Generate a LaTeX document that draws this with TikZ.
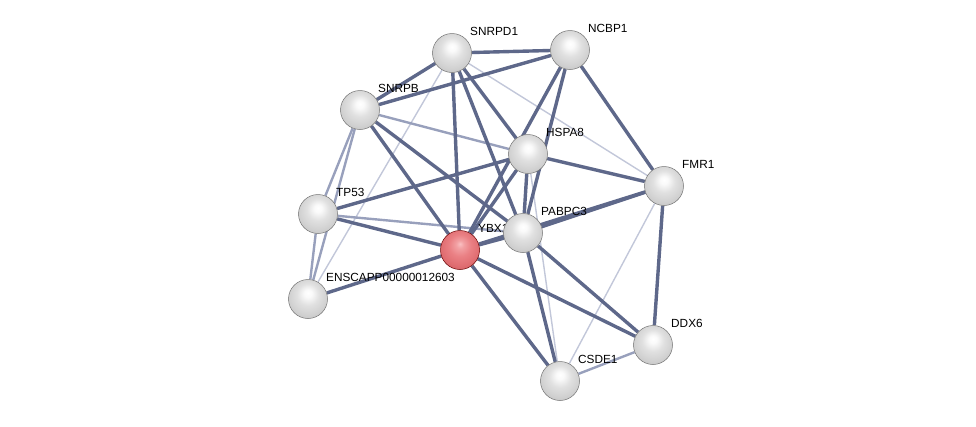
\documentclass[tikz,border=0pt]{standalone}
\usepackage{fontspec}
\setmainfont{Liberation Sans}
\usetikzlibrary{backgrounds}

\definecolor{edgedark}{RGB}{94,104,138}
\definecolor{edgemid}{RGB}{152,160,188}
\definecolor{edgelight}{RGB}{194,199,217}

% koule
\pgfdeclareradialshading{greyball}{\pgfpoint{0bp}{8bp}}{%
  color(0bp)=(white); color(5bp)=(white!98!black); color(14bp)=(white!88!black);
  color(24bp)=(white!82!black); color(32bp)=(white!76!black); color(38bp)=(white!66!black);
  color(44bp)=(white!55!black); color(50bp)=(white!42!black)}
\pgfdeclareradialshading{redball}{\pgfpoint{0bp}{8bp}}{%
  color(0bp)=(rgb,255:red,250;green,192;blue,194); color(5bp)=(rgb,255:red,242;green,160;blue,163);
  color(14bp)=(rgb,255:red,234;green,128;blue,132); color(24bp)=(rgb,255:red,224;green,110;blue,114);
  color(32bp)=(rgb,255:red,210;green,94;blue,98); color(38bp)=(rgb,255:red,190;green,78;blue,82);
  color(44bp)=(rgb,255:red,165;green,60;blue,64); color(50bp)=(rgb,255:red,135;green,42;blue,46)}

\begin{document}
\begin{tikzpicture}[x=1pt, y=-1pt,
    prot/.style={circle, minimum size=39pt, inner sep=0pt, draw=white!45!black, line width=0.5pt, shading=greyball},
    query/.style={prot, shading=redball, draw=red!40!black},
    lbl/.style={anchor=base west, inner sep=0pt, font=\fontsize{11.8}{13}\selectfont},
    strong/.style={edgedark, line width=3.4pt},
    medium/.style={edgemid, line width=2.4pt},
    weak/.style={edgelight, line width=1.4pt}]

        \useasboundingbox (0,0) rectangle (976,426);

        % proteine
        \node[prot] (snrpd1) at (452,53) {};
        \node[prot] (ncbp1) at (570,50) {};
        \node[prot] (snrpb) at (360,110) {};
        \node[prot] (hspa8) at (528,154) {};
        \node[prot] (fmr1) at (664,186) {};
        \node[prot] (tp53) at (318,214) {};
        \node[prot] (pabpc3) at (523,233) {};
        \node[query] (ybx1) at (460,250) {};
        \node[prot] (ensc) at (308,299) {};
        \node[prot] (ddx6) at (653,345) {};
        \node[prot] (csde1) at (560,381) {};

        % popisky
        \node[lbl] (snrpd1-l) at ([shift={(18,-18)}]snrpd1.center) {SNRPD1};
        \node[lbl] (ncbp1-l) at ([shift={(18,-18)}]ncbp1.center) {NCBP1};
        \node[lbl] (snrpb-l) at ([shift={(18,-18)}]snrpb.center) {SNRPB};
        \node[lbl] (hspa8-l) at ([shift={(18,-18)}]hspa8.center) {HSPA8};
        \node[lbl] (fmr1-l) at ([shift={(18,-18)}]fmr1.center) {FMR1};
        \node[lbl] (tp53-l) at ([shift={(18,-18)}]tp53.center) {TP53};
        \node[lbl] (pabpc3-l) at ([shift={(18,-18)}]pabpc3.center) {PABPC3};
        \node[lbl] (ensc-l) at ([shift={(18,-18)}]ensc.center) {ENSCAPP00000012603};
        \node[lbl] (ddx6-l) at ([shift={(18,-18)}]ddx6.center) {DDX6};
        \node[lbl] (csde1-l) at ([shift={(18,-18)}]csde1.center) {CSDE1};

        % spojnice
        \begin{scope}[on background layer]
        \draw[weak] (snrpd1) -- (fmr1);
        \draw[weak] (snrpd1) -- (ensc);
        \draw[weak] (fmr1) -- (csde1);
        \draw[weak] (hspa8) -- (csde1);
        \draw[medium] (snrpb) -- (hspa8);
        \draw[medium] (snrpb) -- (tp53);
        \draw[medium] (snrpb) -- (ensc);
        \draw[medium] (tp53) -- (ensc);
        \draw[medium] (tp53) -- (pabpc3);
        \draw[medium] (ddx6) -- (csde1);

        \draw[strong] (snrpd1) -- (ncbp1);
        \draw[strong] (snrpd1) -- (snrpb);
        \draw[strong] (snrpd1) -- (ybx1);
        \draw[strong] (snrpd1) -- (pabpc3);
        \draw[strong] (snrpd1) -- (hspa8);
        \draw[strong] (ncbp1) -- (snrpb);
        \draw[strong] (ncbp1) -- (ybx1);
        \draw[strong] (ncbp1) -- (pabpc3);
        \draw[strong] (ncbp1) -- (fmr1);
        \draw[strong] (snrpb) -- (ybx1);
        \draw[strong] (snrpb) -- (pabpc3);
        \draw[strong] (tp53) -- (hspa8);
        \draw[strong] (tp53) -- (ybx1);
        \draw[strong] (ensc) -- (ybx1);
        \draw[strong] (ybx1) -- (pabpc3);
        \draw[strong] (ybx1) -- (hspa8);
        \draw[strong] (ybx1) -- (fmr1);
        \draw[strong] (ybx1) -- (ddx6);
        \draw[strong] (ybx1) -- (csde1);
        \draw[strong] (pabpc3) -- (hspa8);
        \draw[strong] (pabpc3) -- (fmr1);
        \draw[strong] (pabpc3) -- (ddx6);
        \draw[strong] (pabpc3) -- (csde1);
        \draw[strong] (hspa8) -- (fmr1);
        \draw[strong] (fmr1) -- (ddx6);

        % YBX1 popisek pod PABPC3
        \node[lbl] (ybx1-l) at ([shift={(18,-18)}]ybx1.center) {YBX1};
        \end{scope}

    \end{tikzpicture}
\end{document}
